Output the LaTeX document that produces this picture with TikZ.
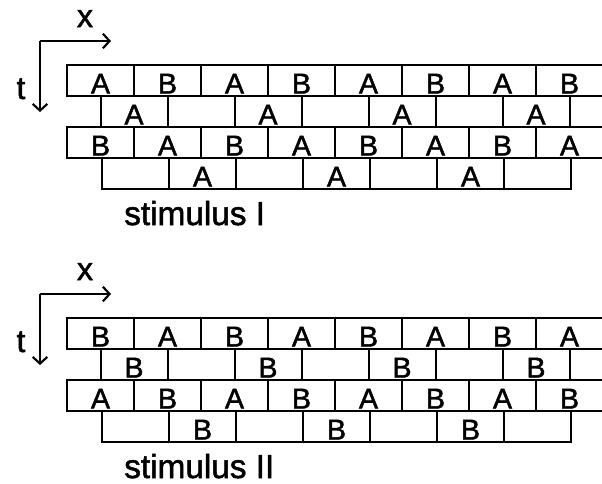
\documentclass[tikz,border=0pt]{standalone}
\usepackage{fontspec}
\setmainfont{Liberation Sans}
\newfontfamily\heavy{Liberation Sans}[UprightFeatures={FakeBold=1.6}]
\usetikzlibrary{arrows.meta}
\begin{document}
\begin{tikzpicture}[x=0.75pt,y=-0.75pt,line width=1.9pt,line cap=rect,
  cell/.style={font=\heavy\fontsize{21.5}{22}\selectfont,inner sep=0pt,anchor=base},
  axlab/.style={font=\heavy\fontsize{24}{24}\selectfont,inner sep=0pt,anchor=base},
  caption/.style={font=\heavy\fontsize{25}{25}\selectfont,inner sep=0pt,anchor=base west},
  axis/.style={-{Straight Barb[length=5pt,width=11pt,line width=1.6pt]},line width=1.6pt,line cap=butt}]
\useasboundingbox (0,0) rectangle (602,483);
\foreach \dy/\P/\Q/\cap/\s in {0/A/B/I/a, 253/B/A/II/b}{
  \begin{scope}[yshift=-\dy*0.75pt]
  % axes
  \coordinate (o\s) at (40,41);
  \coordinate (xe\s) at (111,41);
  \coordinate (te\s) at (40,112);
  \draw[axis] (o\s) -- (xe\s);
  \draw[axis] (o\s) -- (te\s);
  \node[axlab] (xl\s) at (85,27) {x};
  \node[axlab] (tl\s) at (21,99) {t};
  % horizontal lines
  \draw (602,65) -- (67,65) -- (67,96) -- (602,96);
  \draw (602,127) -- (67,127) -- (67,158) -- (602,158);
  \draw (102,158) -- (102,189) -- (571,189) -- (571,158);
  % row 1 and 3 dividers
  \foreach \k in {1,...,7}{
    \draw (67+67*\k,65) -- (67+67*\k,96);
    \draw (67+67*\k,127) -- (67+67*\k,158);
  }
  % row 2 dividers
  \foreach \k in {0,...,7}{
    \draw (101+67*\k,96) -- (101+67*\k,127);
  }
  % row 4 dividers
  \foreach \k in {1,...,6}{
    \draw (102+67*\k,158) -- (102+67*\k,189);
  }
  % labels rows 1 and 3
  \foreach \k in {0,2,4,6}{
    \node[cell] (ra\s\k) at (100.5+67*\k,93.5) {\P};
    \node[cell] (rb\s\k) at (167.5+67*\k,93.5) {\Q};
    \node[cell] (rc\s\k) at (100.5+67*\k,155.5) {\Q};
    \node[cell] (rd\s\k) at (167.5+67*\k,155.5) {\P};
    \node[cell] (re\s\k) at (134+67*\k,124.5) {\P};
  }
  \foreach \k in {1,3,5}{
    \node[cell] (rf\s\k) at (135.5+67*\k,186.5) {\P};
  }
  \node[caption] (cap\s) at (123,225) {stimulus \cap};
  \end{scope}
}
\end{tikzpicture}
\end{document}
